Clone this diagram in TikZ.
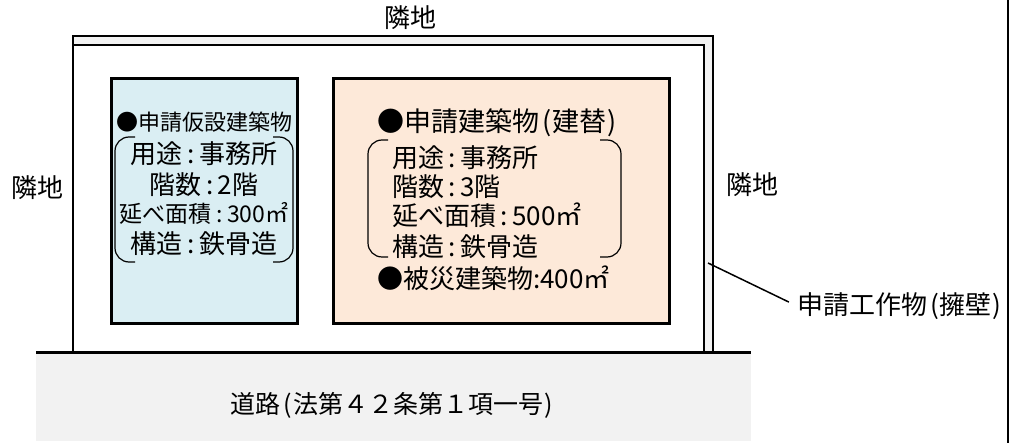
\documentclass[tikz,border=0pt]{standalone}
\usepackage{fontspec}
\setmainfont{Noto Sans CJK JP}
\definecolor{tempblue}{HTML}{DAEEF3}
\definecolor{newpeach}{HTML}{FDE9D9}
\definecolor{roadgray}{HTML}{F2F2F2}
\newcommand\cln{\kern4.5pt:\kern4.5pt}
\newcommand\lpar{\kern3pt(\kern1pt}
\newcommand\rpar{\kern1pt)\kern3pt}
\begin{document}
\begin{tikzpicture}[x=1pt,y=-1pt,line join=miter]
  \tikzstyle{bldg}=[draw,line width=3pt,anchor=north west,inner sep=0pt]
  \tikzstyle{lbl}=[inner sep=0pt,font=\fontsize{26}{30}\selectfont]
  \tikzstyle{small}=[inner sep=0pt,font=\fontsize{22}{26}\selectfont]
  \tikzstyle{brace}=[line width=1.2pt,rounded corners=14pt]
  \useasboundingbox (0,0) rectangle (1012,443);
  % road and site
  \fill[roadgray] (36,353) rectangle (751,441);
  \fill[roadgray] (73,36) rectangle (713,353);
  \fill[white] (73,45) rectangle (704,353);
  \draw[line width=2.5pt] (73,353) -- (73,36) -- (713,36) -- (713,353);
  \draw[line width=2.5pt] (73,45) -- (704,45) -- (704,353);
  \draw[line width=3pt] (36,353) -- (751,353);
  \draw[line width=2.5pt] (1008,0) -- (1008,443);
  % buildings
  \node[bldg,fill=tempblue,minimum width=186pt,minimum height=245pt] (B_temp) at (110,77) {};
  \node[bldg,fill=newpeach,minimum width=336pt,minimum height=245pt] (B_new) at (332,77) {};
  \node[small] (T_0) at (204,122) {●申請仮設建築物};
  \node[lbl] (T_1) at (204,154) {用途\cln 事務所};
  \node[lbl] (T_2) at (204,185) {階数\cln 2階};
  \node[lbl,font=\fontsize{23}{28}\selectfont] (T_3) at (204,213) {延べ面積\cln 300㎡};
  \node[lbl] (T_4) at (204,244) {構造\cln 鉄骨造};
  \draw[brace] (135,137) -- (115,137) -- (115,262) -- (135,262);
  \draw[brace] (273,137) -- (293,137) -- (293,262) -- (273,262);
  \node[lbl,anchor=west,font=\fontsize{27}{30}\selectfont] (N_0) at (377,123) {●申請建築物\lpar 建替\rpar};
  \node[lbl,anchor=west] (N_1) at (392,158) {用途\cln 事務所};
  \node[lbl,anchor=west] (N_2) at (392,187) {階数\cln 3階};
  \node[lbl,anchor=west] (N_3) at (392,215) {延べ面積\cln 500㎡};
  \node[lbl,anchor=west] (N_4) at (392,247) {構造\cln 鉄骨造};
  \node[lbl,anchor=west] (N_5) at (377,278) {●被災建築物:400㎡};
  \draw[brace] (388,140) -- (368,140) -- (368,257) -- (388,257);
  \draw[brace] (600,140) -- (621,140) -- (621,257) -- (600,257);
  % neighbours, road, wall
  \node[lbl] (L_top) at (410,18) {隣地};
  \node[lbl] (L_left) at (37,188) {隣地};
  \node[lbl] (L_right) at (752,185) {隣地};
  \node[lbl,font=\fontsize{25}{30}\selectfont] (road) at (393,405) {道路\lpar 法第４２条第１項一号\rpar};
  \node[lbl,anchor=west] (wall) at (797,306) {申請工作物\lpar 擁壁\rpar};
  \coordinate (wallpt) at (708,263);
  \draw[line width=1.5pt,shorten >=9pt] (wallpt) -- (wall.west);
\end{tikzpicture}
\end{document}
